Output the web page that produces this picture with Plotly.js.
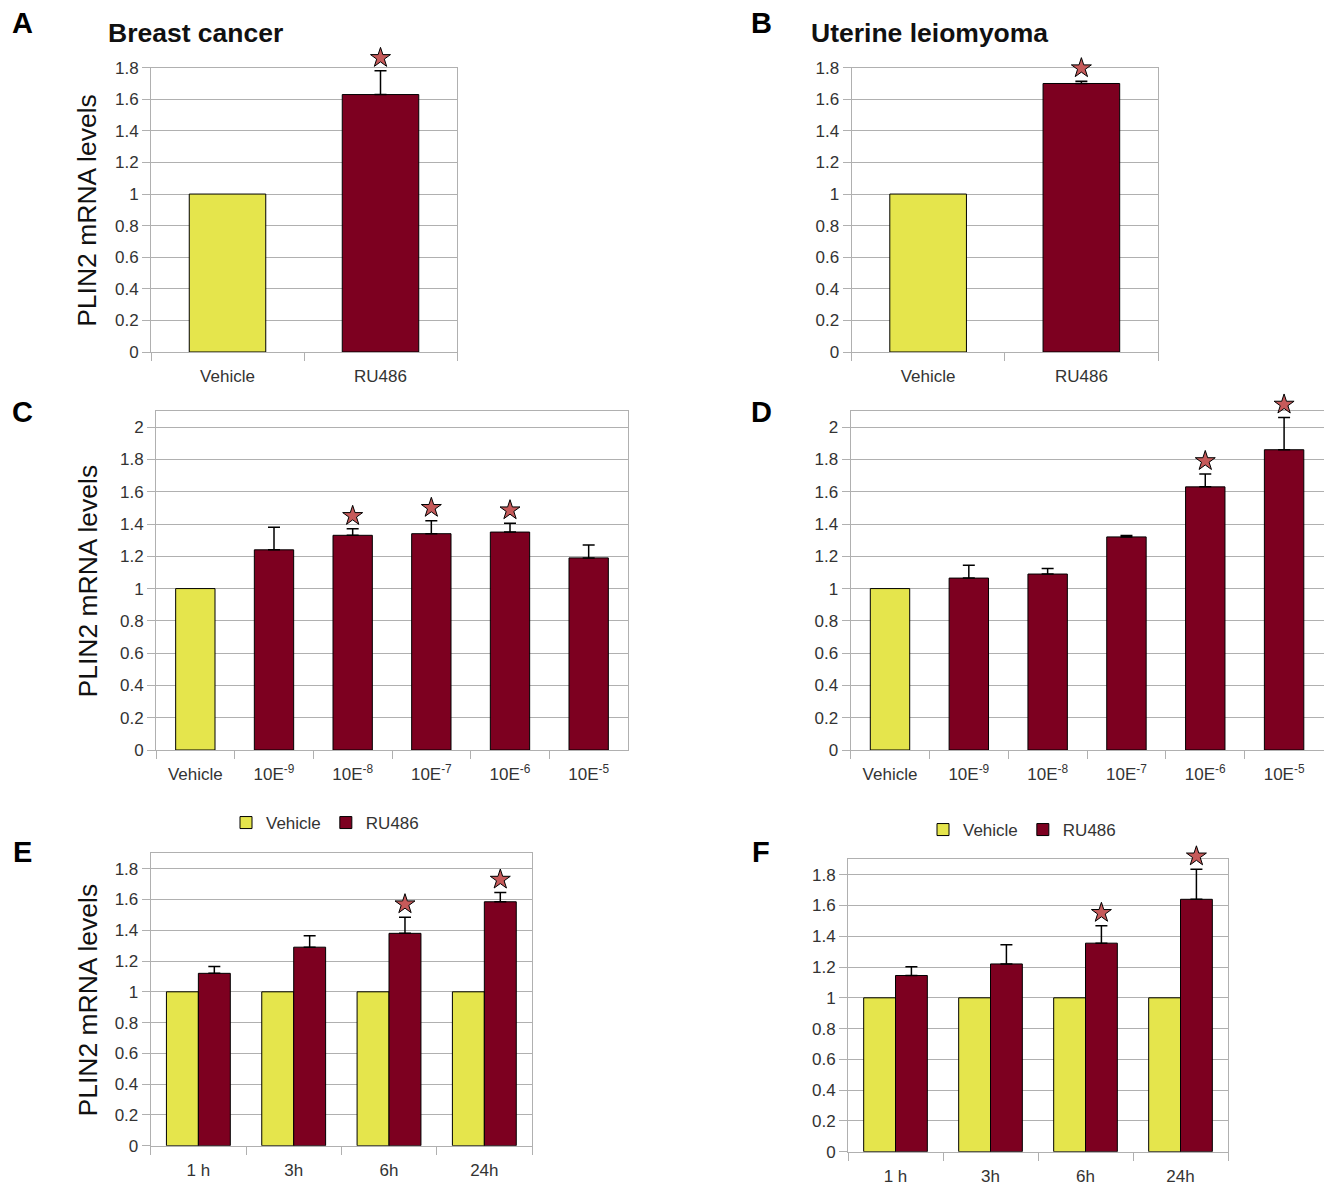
<!DOCTYPE html>
<html>
<head>
<meta charset="utf-8">
<script src="https://cdn.plot.ly/plotly-3.0.1.min.js"></script>
<style>html,body{margin:0;padding:0;background:#fff;}#chart{width:1324px;height:1186px;}</style>
</head>
<body>
<div id="chart"></div>
<script>
// ---------------- DATA ----------------
const catsAB = ['Vehicle', 'RU486'];
const valsA = [1, 1.63];
const errA  = [0, 0.15];
const sigA  = [false, true];

const valsB = [1, 1.70];
const errB  = [0, 0.015];
const sigB  = [false, true];

const catsCD = ['Vehicle', '10E<sup>-9</sup>', '10E<sup>-8</sup>', '10E<sup>-7</sup>', '10E<sup>-6</sup>', '10E<sup>-5</sup>'];
const valsC = [1, 1.24, 1.33, 1.34, 1.35, 1.19];
const errC  = [0, 0.14, 0.04, 0.08, 0.055, 0.08];
const sigC  = [false, false, true, true, true, false];

const valsD = [1, 1.065, 1.09, 1.32, 1.63, 1.86];
const errD  = [0, 0.08, 0.035, 0.008, 0.08, 0.2];
const sigD  = [false, false, false, false, true, true];

const timeCats = ['1 h', '3h', '6h', '24h'];
const vehE = [1, 1, 1, 1];
const ruE  = [1.12, 1.29, 1.38, 1.585];
const errE = [0.045, 0.075, 0.105, 0.06];
const sigE = [false, false, true, true];

const vehF = [1, 1, 1, 1];
const ruF  = [1.145, 1.22, 1.355, 1.64];
const errF = [0.057, 0.125, 0.113, 0.195];
const sigF = [false, false, true, true];

const seriesNames = ['Vehicle', 'RU486'];
const panelLetters = ['A', 'B', 'C', 'D', 'E', 'F'];
const panelTitles = ['Breast cancer', 'Uterine leiomyoma'];
const yTitle = 'PLIN2 mRNA levels';

// ---------------- STYLE / LAYOUT ----------------
const W = 1324, H = 1186;
const FONT = 'Liberation Sans, Arial, Helvetica, sans-serif';
const YEL = '#e5e54c', RED = '#7d0020', STARC = '#c65a5a', GRID = '#b0b0b0', TXT = '#333333';
const BARGAP = 0.33;
const STAR_EXT = 40; // px of extra room above each plot for the star markers

// pixel boxes of the plot areas [left, right, top, bottom], and y ranges
const box = {
  1: [151, 457, 67.7, 352],
  2: [851.5, 1158, 67.7, 352],
  3: [156, 628, 411, 750],
  4: [850.6, 1323.5, 411, 750],
  5: [150.7, 532, 853.3, 1145.7],
  6: [848, 1228, 859.3, 1151.7]
};
const yr = {1: [0, 1.8], 2: [0, 1.8], 3: [0, 2.1], 4: [0, 2.1], 5: [0, 1.9], 6: [0, 1.9]};
const pxPerUnit = n => (box[n][3] - box[n][2]) / (yr[n][1] - yr[n][0]);
const starOffset = n => 13 / pxPerUnit(n);   // 13 px above the error cap
const ax = n => (n === 1 ? '' : String(n));
const sAx = n => String(10 + n);               // invisible star axes

const traces = [];
const starMarker = {symbol: 'star', size: 15, color: STARC, line: {color: '#000', width: 1}};
const errStyle = {color: '#000', thickness: 1.5, width: 6};

function singlePanel(n, cats, vals, errs, sig) {
  // vehicle bar
  traces.push({
    type: 'bar', x: cats.slice(0, 1), y: vals.slice(0, 1), xaxis: 'x' + ax(n), yaxis: 'y' + ax(n),
    width: 0.5, offset: -0.25, showlegend: false, hoverinfo: 'skip',
    marker: {color: YEL, line: {color: '#000', width: 1}}
  });
  // treatment bars
  const e = errs.slice(1);
  traces.push({
    type: 'bar', x: cats.slice(1), y: vals.slice(1), xaxis: 'x' + ax(n), yaxis: 'y' + ax(n),
    width: 0.5, offset: -0.25, showlegend: false, hoverinfo: 'skip',
    marker: {color: RED, line: {color: '#000', width: 1}},
    error_y: Object.assign({type: 'data', array: e, arrayminus: e.map(() => 0), symmetric: false}, errStyle)
  });
  const off = starOffset(n);
  const sx = [], sy = [];
  cats.forEach((c, i) => { if (sig[i]) { sx.push(c); sy.push(vals[i] + errs[i] + off); } });
  traces.push({type: 'scatter', mode: 'markers', x: sx, y: sy, xaxis: 'x' + sAx(n), yaxis: 'y' + sAx(n),
    marker: starMarker, showlegend: false, hoverinfo: 'skip'});
}

function groupPanel(n, legendId, veh, ru, errs, sig) {
  traces.push({
    type: 'bar', name: seriesNames[0], x: timeCats, y: veh, xaxis: 'x' + ax(n), yaxis: 'y' + ax(n),
    legend: legendId, hoverinfo: 'skip',
    marker: {color: YEL, line: {color: '#000', width: 1}}
  });
  traces.push({
    type: 'bar', name: seriesNames[1], x: timeCats, y: ru, xaxis: 'x' + ax(n), yaxis: 'y' + ax(n),
    legend: legendId, hoverinfo: 'skip',
    marker: {color: RED, line: {color: '#000', width: 1}},
    error_y: Object.assign({type: 'data', array: errs, arrayminus: errs.map(() => 0), symmetric: false}, errStyle)
  });
  const off = starOffset(n);
  const barW = (1 - BARGAP) / 2;
  const sx = [], sy = [];
  timeCats.forEach((c, i) => { if (sig[i]) { sx.push(i + barW / 2); sy.push(ru[i] + errs[i] + off); } });
  traces.push({type: 'scatter', mode: 'markers', x: sx, y: sy, xaxis: 'x' + sAx(n), yaxis: 'y' + sAx(n),
    marker: starMarker, showlegend: false, hoverinfo: 'skip'});
}

singlePanel(1, catsAB, valsA, errA, sigA);
singlePanel(2, catsAB, valsB, errB, sigB);
singlePanel(3, catsCD, valsC, errC, sigC);
singlePanel(4, catsCD, valsD, errD, sigD);
groupPanel(5, 'legend', vehE, ruE, errE, sigE);
groupPanel(6, 'legend2', vehF, ruF, errF, sigF);

const tickfont = {family: FONT, size: 17, color: TXT};
const legFont = {family: FONT, size: 17, color: TXT};
const layout = {
  width: W, height: H, margin: {l: 0, r: 0, t: 0, b: 0},
  paper_bgcolor: '#ffffff', plot_bgcolor: 'rgba(0,0,0,0)',
  barmode: 'group', bargap: BARGAP, bargroupgap: 0,
  font: {family: FONT, color: TXT},
  annotations: [],
  legend: {orientation: 'h', x: 325 / W, y: 1 - 823 / H, xanchor: 'center', yanchor: 'middle',
           font: legFont, bgcolor: 'rgba(0,0,0,0)', itemwidth: 30, traceorder: 'normal'},
  legend2: {orientation: 'h', x: 1022 / W, y: 1 - 830 / H, xanchor: 'center', yanchor: 'middle',
           font: legFont, bgcolor: 'rgba(0,0,0,0)', itemwidth: 30, traceorder: 'normal'}
};

const catsOf = {1: catsAB, 2: catsAB, 3: catsCD, 4: catsCD, 5: timeCats, 6: timeCats};
for (let n = 1; n <= 6; n++) {
  const b = box[n];
  const nc = catsOf[n].length;
  layout['xaxis' + ax(n)] = {
    domain: [b[0] / W, b[1] / W], anchor: 'y' + ax(n), type: 'category',
    range: [-0.5, nc - 0.5],
    showgrid: false, showline: true, mirror: true, linecolor: GRID, linewidth: 1,
    ticks: 'outside', tickson: 'boundaries', ticklen: 8, tickcolor: GRID, tickwidth: 1,
    ticklabelstandoff: 9,
    tickfont: tickfont, fixedrange: true, zeroline: false
  };
  layout['yaxis' + ax(n)] = {
    domain: [1 - b[3] / H, 1 - b[2] / H], anchor: 'x' + ax(n), range: yr[n],
    tick0: 0, dtick: 0.2, showgrid: true, gridcolor: GRID, gridwidth: 1,
    showline: true, mirror: true, linecolor: GRID, linewidth: 1,
    ticks: 'outside', ticklen: 8, tickcolor: GRID, tickwidth: 1,
    tickfont: tickfont, fixedrange: true, zeroline: false
  };
  // invisible axes with extra headroom for stars (same scale as the panel)
  const ext = STAR_EXT / pxPerUnit(n);
  layout['xaxis' + sAx(n)] = (n <= 4)
    ? {domain: [b[0] / W, b[1] / W], anchor: 'y' + sAx(n), type: 'category', categoryorder: 'array',
       categoryarray: catsOf[n], range: [-0.5, nc - 0.5], visible: false, fixedrange: true}
    : {domain: [b[0] / W, b[1] / W], anchor: 'y' + sAx(n), type: 'linear',
       range: [-0.5, nc - 0.5], visible: false, fixedrange: true};
  layout['yaxis' + sAx(n)] = {
    domain: [1 - b[3] / H, 1 - (b[2] - STAR_EXT) / H], anchor: 'x' + sAx(n),
    range: [yr[n][0], yr[n][1] + ext], visible: false, fixedrange: true
  };
}

// panel letters
const letterPos = [[22, 23], [761, 23], [22, 412], [761, 412], [22, 852], [761, 852]];
panelLetters.forEach((L, i) => layout.annotations.push({
  text: '<b>' + L + '</b>', xref: 'paper', yref: 'paper', x: letterPos[i][0] / W, y: 1 - letterPos[i][1] / H,
  xanchor: 'center', yanchor: 'middle', showarrow: false, font: {family: FONT, size: 29, color: '#000'}
}));
// panel titles
const titlePos = [[106, 33], [809, 33]];
panelTitles.forEach((t, i) => layout.annotations.push({
  text: '<b>' + t + '</b>', xref: 'paper', yref: 'paper', x: titlePos[i][0] / W, y: 1 - titlePos[i][1] / H,
  xanchor: 'left', yanchor: 'middle', showarrow: false, font: {family: FONT, size: 26.5, color: '#111'}
}));
// y-axis titles (left column)
[1, 3, 5].forEach(n => {
  const b = box[n];
  layout.annotations.push({
    text: yTitle, xref: 'paper', yref: 'paper', x: 87 / W, y: 1 - ((b[2] + b[3]) / 2) / H,
    xanchor: 'center', yanchor: 'middle', textangle: -90, showarrow: false,
    font: {family: FONT, size: 26.5, color: '#111'}
  });
});

Plotly.newPlot('chart', traces, layout, {staticPlot: true, displayModeBar: false});
</script>
</body>
</html>
